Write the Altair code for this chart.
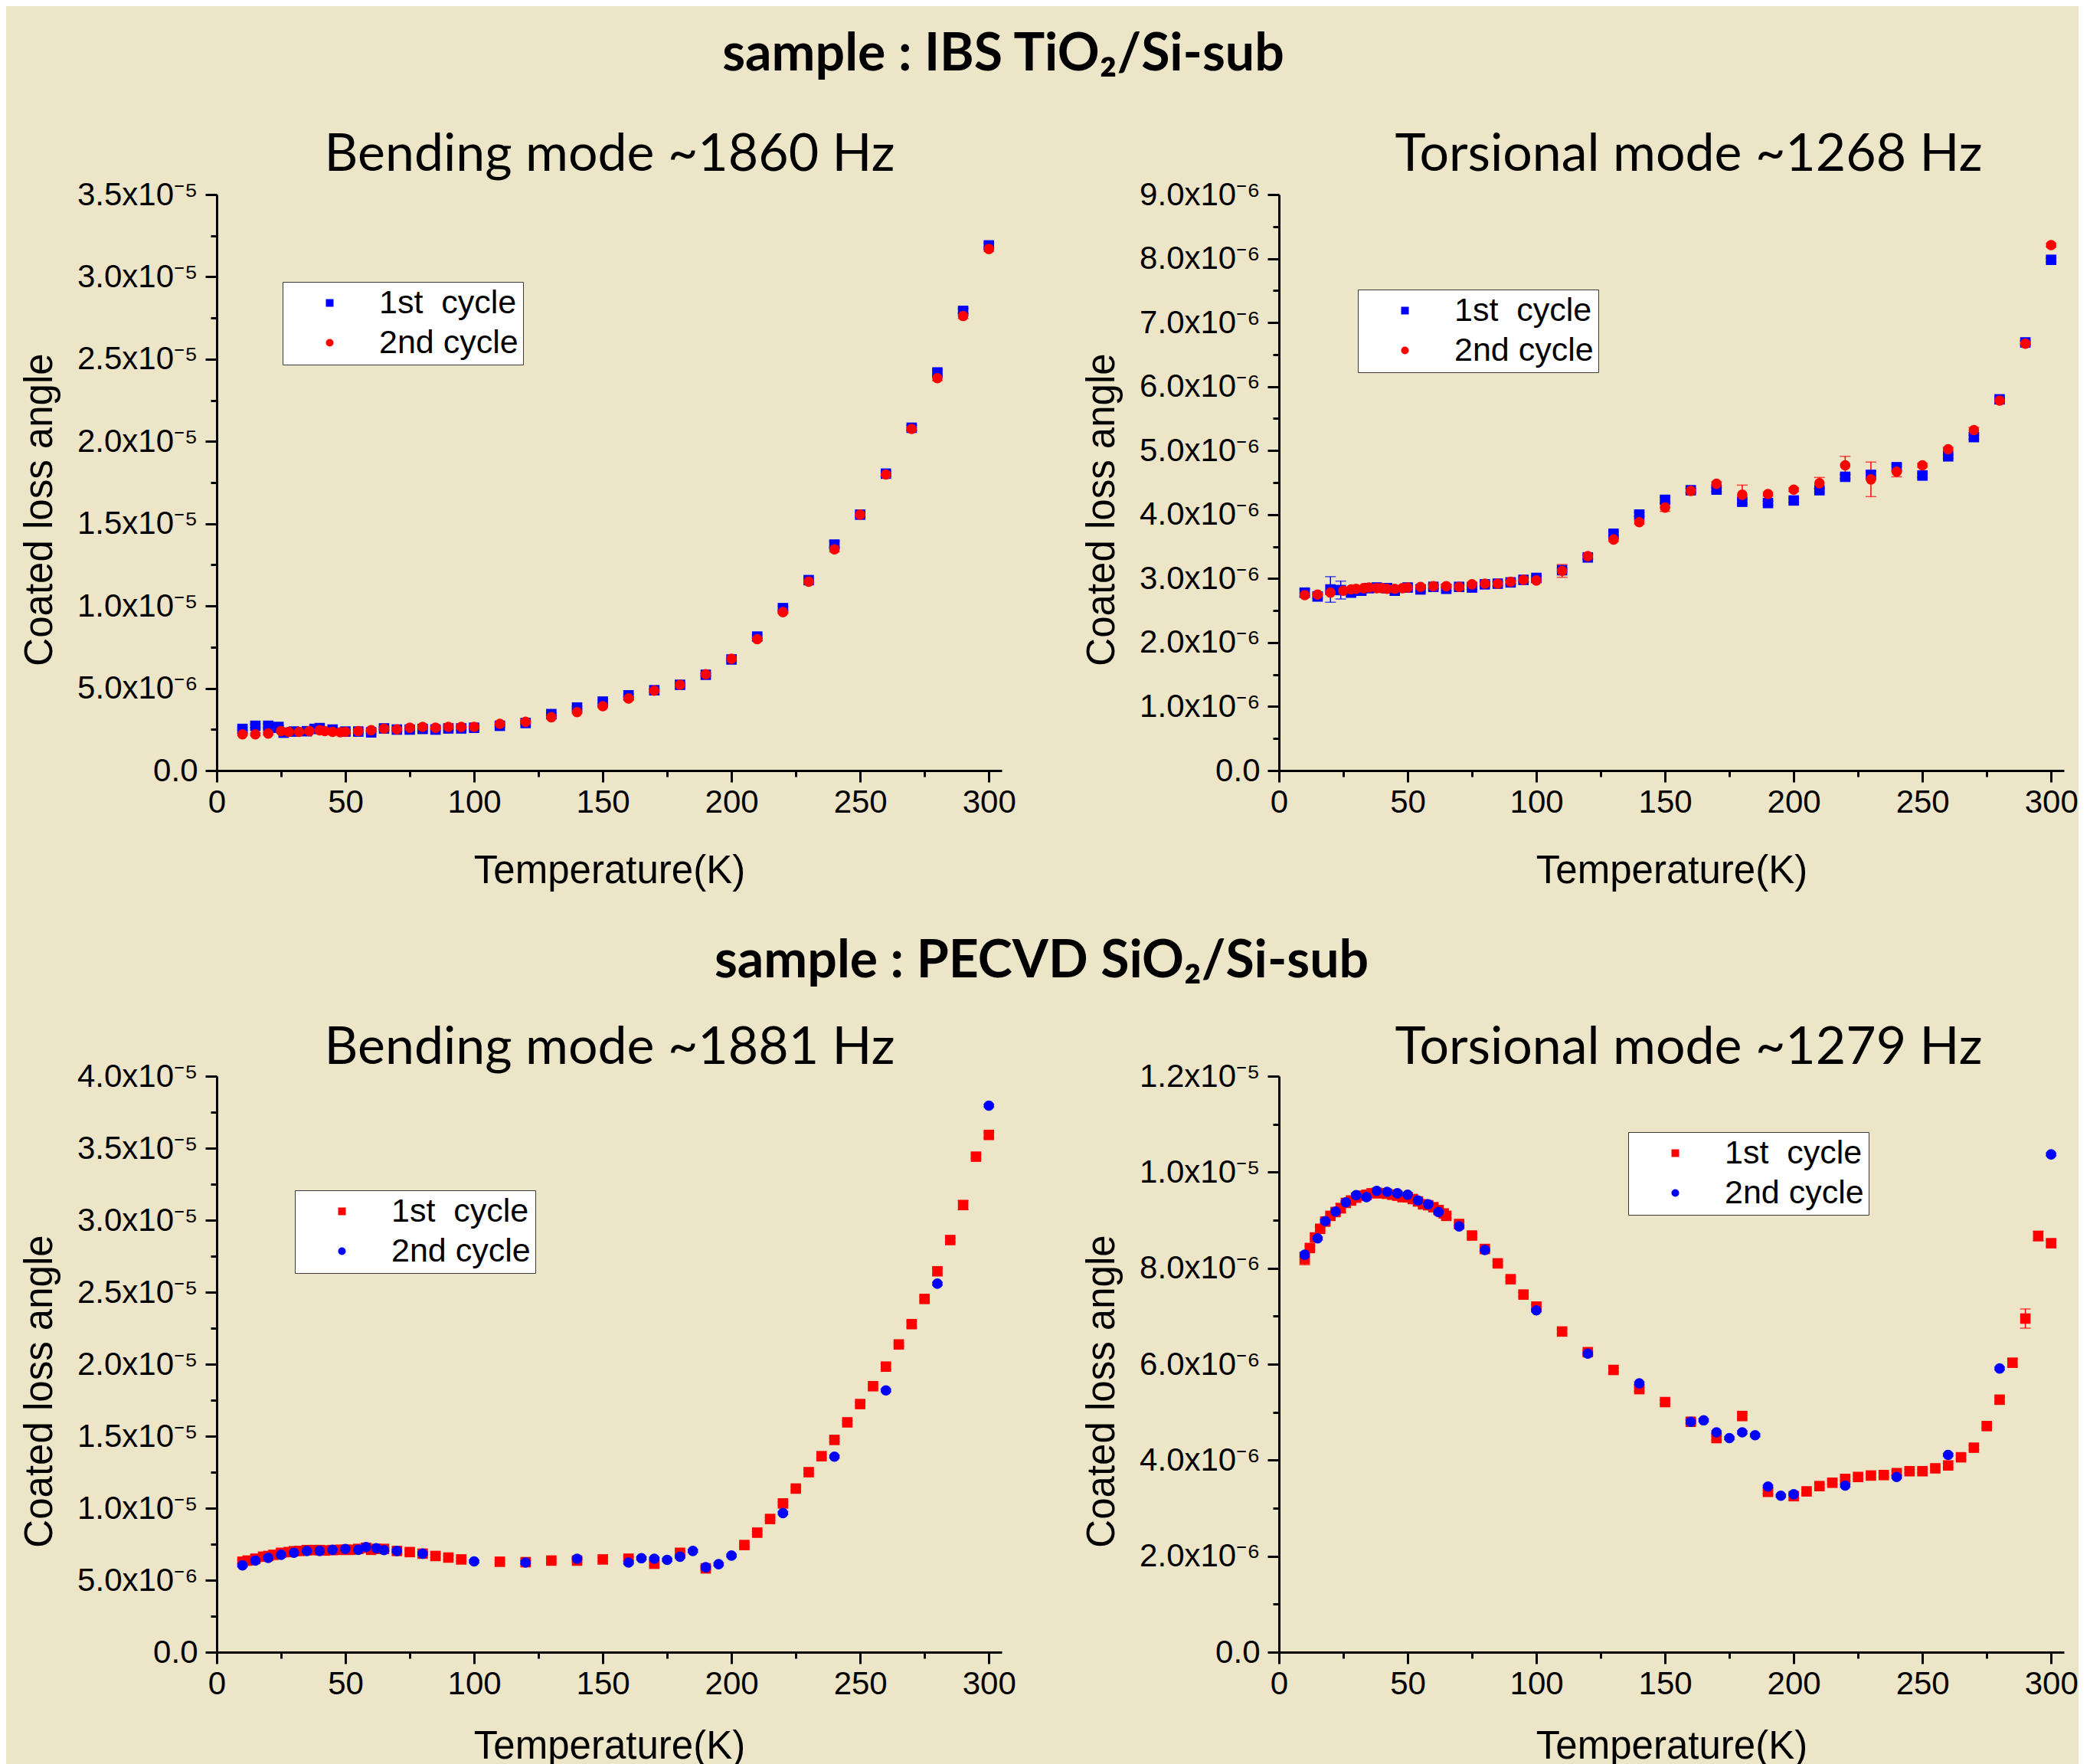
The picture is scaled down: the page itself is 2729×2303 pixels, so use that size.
import altair as alt
import pandas as pd

# ---------------- data (loss-angle values in units of 1e-6) ----------------
# IBS TiO2 / Si-sub, bending mode ~1860 Hz
tb_T1 = [10, 15, 20, 22, 24, 26, 30, 35, 38, 40, 45, 50, 55, 60, 65, 70, 75, 80, 85, 90, 95, 100,
         110, 120, 130, 140, 150, 160, 170, 180, 190, 200, 210, 220, 230, 240, 250, 260, 270, 280, 290, 300]
tb_V1 = [2.53, 2.72, 2.72, 2.60, 2.65, 2.30, 2.37, 2.39, 2.53, 2.58, 2.49, 2.37, 2.37, 2.32, 2.56, 2.49,
         2.49, 2.53, 2.49, 2.56, 2.56, 2.60, 2.72, 2.89, 3.43, 3.83, 4.19, 4.57, 4.88, 5.21, 5.82, 6.75,
         8.14, 9.87, 11.57, 13.73, 15.55, 18.04, 20.83, 24.19, 27.93, 31.91]
tb_T2 = [10, 15, 20, 25, 28, 32, 36, 40, 42, 45, 48, 50, 55, 60, 65, 70, 75, 80, 85, 90, 95, 100,
         110, 120, 130, 140, 150, 160, 170, 180, 190, 200, 210, 220, 230, 240, 250, 260, 270, 280, 290, 300]
tb_V2 = [2.20, 2.20, 2.25, 2.40, 2.35, 2.35, 2.40, 2.45, 2.40, 2.35, 2.33, 2.35, 2.40, 2.45, 2.55, 2.50,
         2.60, 2.65, 2.60, 2.65, 2.65, 2.65, 2.84, 2.96, 3.24, 3.55, 3.91, 4.38, 4.85, 5.21, 5.85, 6.79,
         7.98, 9.63, 11.48, 13.44, 15.55, 17.99, 20.76, 23.84, 27.62, 31.69]
tb_E1 = (0.08, {15: 0.10, 20: 0.12, 210: 0.10, 220: 0.12, 240: 0.20, 250: 0.15, 260: 0.15,
                270: 0.15, 280: 0.15, 290: 0.15, 300: 0.15})
tb_E2 = (0.08, {240: 0.15, 280: 0.15, 290: 0.15, 300: 0.15})

# IBS TiO2 / Si-sub, torsional mode ~1268 Hz
tt_T1 = [10, 15, 20, 24, 28, 32, 35, 38, 42, 45, 50, 55, 60, 65, 70, 75, 80, 85, 90, 95, 100,
         110, 120, 130, 140, 150, 160, 170, 180, 190, 200, 210, 220, 230, 240, 250, 260, 270, 280, 290, 300]
tt_V1 = [2.78, 2.72, 2.83, 2.82, 2.78, 2.81, 2.85, 2.86, 2.85, 2.81, 2.86, 2.83, 2.87, 2.84, 2.87,
         2.86, 2.91, 2.92, 2.94, 2.98, 3.01, 3.13, 3.33, 3.70, 4.00, 4.23, 4.38, 4.39, 4.20, 4.18,
         4.22, 4.38, 4.59, 4.62, 4.74, 4.61, 4.91, 5.21, 5.80, 6.69, 7.98]
tt_T2 = [10, 15, 20, 25, 28, 30, 33, 35, 38, 40, 42, 45, 48, 50, 55, 60, 65, 70, 75, 80, 85, 90, 95, 100,
         110, 120, 130, 140, 150, 160, 170, 180, 190, 200, 210, 220, 230, 240, 250, 260, 270, 280, 290, 300]
tt_V2 = [2.74, 2.75, 2.78, 2.81, 2.83, 2.84, 2.85, 2.86, 2.85, 2.85, 2.84, 2.84, 2.85, 2.86, 2.87,
         2.88, 2.88, 2.87, 2.91, 2.92, 2.92, 2.95, 2.98, 2.97, 3.12, 3.35, 3.61, 3.88, 4.11, 4.37,
         4.48, 4.31, 4.32, 4.39, 4.49, 4.77, 4.55, 4.67, 4.77, 5.02, 5.32, 5.78, 6.67, 8.21]
tt_E1 = (0.03, {10: 0.05, 20: 0.20, 24: 0.14, 150: 0.04, 230: 0.06, 240: 0.05})
tt_E2 = (0.03, {110: 0.10, 150: 0.06, 180: 0.15, 210: 0.09, 220: 0.14, 230: 0.27, 240: 0.08, 270: 0.04})

# PECVD SiO2 / Si-sub, bending mode ~1881 Hz
sb_T1 = [10, 12, 15, 18, 20, 22, 25, 28, 30, 32, 35, 38, 40, 42, 45, 48, 50, 52, 55, 58, 60, 62, 65,
         70, 75, 80, 85, 90, 95, 110, 120, 130, 140, 150, 160, 170, 180, 190, 205, 210, 215, 220,
         225, 230, 235, 240, 245, 250, 255, 260, 265, 270, 275, 280, 285, 290, 295, 300]
sb_V1 = [6.28, 6.36, 6.49, 6.63, 6.68, 6.76, 6.90, 6.95, 7.01, 7.03, 7.09, 7.09, 7.09, 7.06, 7.09,
         7.11, 7.11, 7.11, 7.17, 7.25, 7.11, 7.17, 7.17, 7.03, 6.95, 6.84, 6.68, 6.57, 6.44, 6.28,
         6.25, 6.36, 6.36, 6.44, 6.49, 6.14, 6.90, 5.82, 7.44, 8.30, 9.25, 10.33, 11.36, 12.50,
         13.61, 14.74, 15.96, 17.23, 18.47, 19.83, 21.37, 22.78, 24.53, 26.45, 28.62, 31.05, 34.41, 35.92]
sb_T2 = [10, 15, 20, 25, 30, 35, 40, 45, 50, 55, 58, 62, 65, 70, 80, 100, 120, 140, 160, 165, 170,
         175, 180, 185, 190, 195, 200, 220, 240, 260, 280, 300]
sb_V2 = [6.03, 6.36, 6.55, 6.76, 6.90, 7.03, 7.03, 7.11, 7.17, 7.11, 7.30, 7.22, 7.09, 7.03, 6.84,
         6.30, 6.22, 6.49, 6.22, 6.52, 6.49, 6.41, 6.63, 7.03, 5.90, 6.11, 6.71, 9.66, 13.58, 18.18,
         25.59, 37.95]
sb_E1 = (0.12, {260: 0.20, 270: 0.20, 275: 0.15, 280: 0.20, 285: 0.15, 290: 0.30, 295: 0.15, 300: 0.20})
sb_E2 = (0.10, {})

# PECVD SiO2 / Si-sub, torsional mode ~1279 Hz
st_T1 = [10, 12, 14, 16, 18, 20, 22, 24, 26, 28, 30, 32, 34, 36, 38, 40, 42, 44, 46, 48, 50, 52, 54,
         56, 58, 60, 62, 64, 65, 70, 75, 80, 85, 90, 95, 100, 110, 120, 130, 140, 150, 160, 170,
         180, 190, 200, 205, 210, 215, 220, 225, 230, 235, 240, 245, 250, 255, 260, 265, 270, 275,
         280, 285, 290, 295, 300]
st_V1 = [8.19, 8.42, 8.64, 8.82, 8.97, 9.09, 9.17, 9.25, 9.36, 9.41, 9.47, 9.51, 9.53, 9.56, 9.57,
         9.56, 9.55, 9.53, 9.51, 9.48, 9.48, 9.44, 9.39, 9.33, 9.31, 9.27, 9.21, 9.14, 9.09, 8.92,
         8.68, 8.40, 8.10, 7.77, 7.45, 7.20, 6.68, 6.25, 5.88, 5.48, 5.21, 4.80, 4.46, 4.92, 3.34,
         3.25, 3.35, 3.46, 3.53, 3.61, 3.65, 3.68, 3.69, 3.73, 3.77, 3.77, 3.83, 3.89, 4.06, 4.26,
         4.71, 5.26, 6.03, 6.95, 8.67, 8.52]
st_T2 = [10, 15, 18, 22, 26, 30, 34, 38, 42, 46, 50, 54, 58, 62, 70, 80, 100, 120, 140, 160, 165,
         170, 175, 180, 185, 190, 195, 200, 220, 240, 260, 280, 300]
st_V2 = [8.28, 8.62, 8.98, 9.18, 9.37, 9.52, 9.48, 9.61, 9.59, 9.56, 9.53, 9.41, 9.33, 9.17, 8.87,
         8.38, 7.12, 6.22, 5.60, 4.80, 4.83, 4.58, 4.46, 4.58, 4.52, 3.45, 3.26, 3.29, 3.47, 3.65,
         4.11, 5.91, 10.37]
st_E1 = (0.04, {10: 0.12, 24: 0.10, 160: 0.06, 180: 0.06, 285: 0.08, 290: 0.20, 295: 0.10, 300: 0.06})
st_E2 = (0.03, {10: 0.05, 34: 0.05})

LBL1 = "1st\u00a0 cycle"
LBL2 = "2nd cycle"

SECTION1 = "sample : IBS TiO\u2082/Si-sub"
SECTION2 = "sample : PECVD SiO\u2082/Si-sub"

BG = "#ECE5C8"
FONT = "Liberation Sans"
TFONT = "Lato"
W, H = 1025, 752
HS, VS = 362, 399


def series_df(T, V, err, label):
    default, exc = err
    return pd.DataFrame({
        "T": T,
        "v": [x * 1e-6 for x in V],
        "lo": [(x - exc.get(t, default)) * 1e-6 for t, x in zip(T, V)],
        "hi": [(x + exc.get(t, default)) * 1e-6 for t, x in zip(T, V)],
        "series": label,
    })


def text_layer(txt, x, y, size, weight):
    return alt.Chart(pd.DataFrame({"t": [txt]})).mark_text(
        font=TFONT, fontSize=size, fontWeight=weight, align="center",
        baseline="alphabetic", color="black"
    ).encode(x=alt.value(x), y=alt.value(y), text="t:N")


def panel(df, ymax, ystep, yminor, colors, title, title_xy, legend_xy, section=None, xtitle_y=146):
    domain = [LBL1, LBL2]
    cscale = alt.Scale(domain=domain, range=colors)
    sscale = alt.Scale(domain=domain, range=["square", "circle"])
    xscale = alt.Scale(domain=[0, 305], nice=False, zero=False)
    yscale = alt.Scale(domain=[0, ymax], nice=False, zero=False)
    n = int(round(ymax / yminor))
    yvals = [round(i * yminor, 14) for i in range(n + 1)]
    ytest = f"abs(datum.value/{ystep} - round(datum.value/{ystep})) < 1e-6"
    ylab = ("datum.value == 0 ? '0.0' : format(datum.value/pow(10, floor(log(datum.value)/LN10 + 1e-6)), '.1f')"
            " + 'x10' + (floor(log(datum.value)/LN10 + 1e-6) == -5 ? '\u207b\u2075' : '\u207b\u2076')")
    common = dict(domainColor="black", domainWidth=3, tickColor="black", tickWidth=3,
                  labelColor="black", labelFont=FONT, labelFontSize=42, titleFont=FONT,
                  titleFontSize=51, titleFontWeight="normal", titleColor="black", grid=False,
                  labelOverlap=False, labelFlush=False)
    xaxis = alt.Axis(values=list(range(0, 301, 25)),
                     labelExpr="datum.value % 50 == 0 ? datum.label : ''",
                     tickSize={"condition": {"test": "datum.value % 50 == 0", "value": 15}, "value": 8},
                     labelPadding=6, title="Temperature(K)", titleY=xtitle_y,
                     titleBaseline="alphabetic", **common)
    yaxis = alt.Axis(values=yvals, labelExpr=f"({ytest}) ? ({ylab}) : ''",
                     tickSize={"condition": {"test": ytest, "value": 15}, "value": 8},
                     labelPadding=10, title="Coated loss angle", titleX=-231, titleY=411,
                     titleBaseline="middle", **common)
    legend = alt.Legend(orient="none", legendX=legend_xy[0], legendY=legend_xy[1], title=None,
                        fillColor="white", strokeColor="#3a3a3a", padding=6, labelFont=FONT,
                        labelFontSize=43, labelColor="black", labelLimit=600, symbolSize=100,
                        symbolOffset=34, labelOffset=43, rowPadding=8)
    X = alt.X("T:Q", scale=xscale, axis=xaxis)
    base = alt.Chart(df)
    layers = []
    # error bars, one colour per series (fixed colour, no legend)
    for lbl, col in zip(domain, colors):
        sb = base.transform_filter(alt.datum.series == lbl)
        layers.append(sb.mark_rule(strokeWidth=1.5, color=col).encode(
            x=X, y=alt.Y("lo:Q", scale=yscale, axis=yaxis), y2="hi:Q"))
        layers.append(sb.mark_tick(orient="horizontal", size=14, thickness=1.5, color=col).encode(
            x=X, y=alt.Y("lo:Q", scale=yscale, axis=yaxis)))
        layers.append(sb.mark_tick(orient="horizontal", size=14, thickness=1.5, color=col).encode(
            x=X, y=alt.Y("hi:Q", scale=yscale, axis=yaxis)))
    pts = base.mark_point(filled=True, size=185, opacity=1).encode(
        x=X, y=alt.Y("v:Q", scale=yscale, axis=yaxis),
        color=alt.Color("series:N", scale=cscale, legend=legend),
        shape=alt.Shape("series:N", scale=sscale, legend=legend))
    layers.append(pts)
    layers.append(text_layer(title, title_xy[0], title_xy[1], 68, "normal"))
    if section is not None:
        layers.append(text_layer(section[0], section[1], section[2], 68, "bold"))
    return alt.layer(*layers).properties(width=W, height=H)


BLUE, RED = "#0000FF", "#FF0000"

df1 = pd.concat([series_df(tb_T1, tb_V1, tb_E1, LBL1), series_df(tb_T2, tb_V2, tb_E2, LBL2)])
df2 = pd.concat([series_df(tt_T1, tt_V1, tt_E1, LBL1), series_df(tt_T2, tt_V2, tt_E2, LBL2)])
df3 = pd.concat([series_df(sb_T1, sb_V1, sb_E1, LBL1), series_df(sb_T2, sb_V2, sb_E2, LBL2)])
df4 = pd.concat([series_df(st_T1, st_V1, st_E1, LBL1), series_df(st_T2, st_V2, st_E2, LBL2)])

p1 = panel(df1, 3.5e-5, 5e-6, 2.5e-6, [BLUE, RED], "Bending mode ~1860 Hz", (513, -31), (86, 114),
           section=(SECTION1, 1027, -162))
p2 = panel(df2, 9e-6, 1e-6, 5e-7, [BLUE, RED], "Torsional mode ~1268 Hz", (535, -31), (103, 124))
p3 = panel(df3, 4e-5, 5e-6, 2.5e-6, [RED, BLUE], "Bending mode ~1881 Hz", (513, -16), (102, 149),
           section=(SECTION2, 1077, -129), xtitle_y=138)
p4 = panel(df4, 1.2e-5, 2e-6, 1e-6, [RED, BLUE], "Torsional mode ~1279 Hz", (535, -16), (456, 73),
           xtitle_y=138)

chart = alt.concat(p1, p2, p3, p4, columns=2, spacing={"row": VS, "column": HS},
                   bounds="flush").resolve_scale(
    color="independent", shape="independent").resolve_legend(
    color="independent", shape="independent").configure_view(strokeOpacity=0).properties(
    background=BG, padding={"left": 18, "top": 30, "right": 0, "bottom": 0})

chart.save("out.html", embed_options={"renderer": "svg", "actions": False})
